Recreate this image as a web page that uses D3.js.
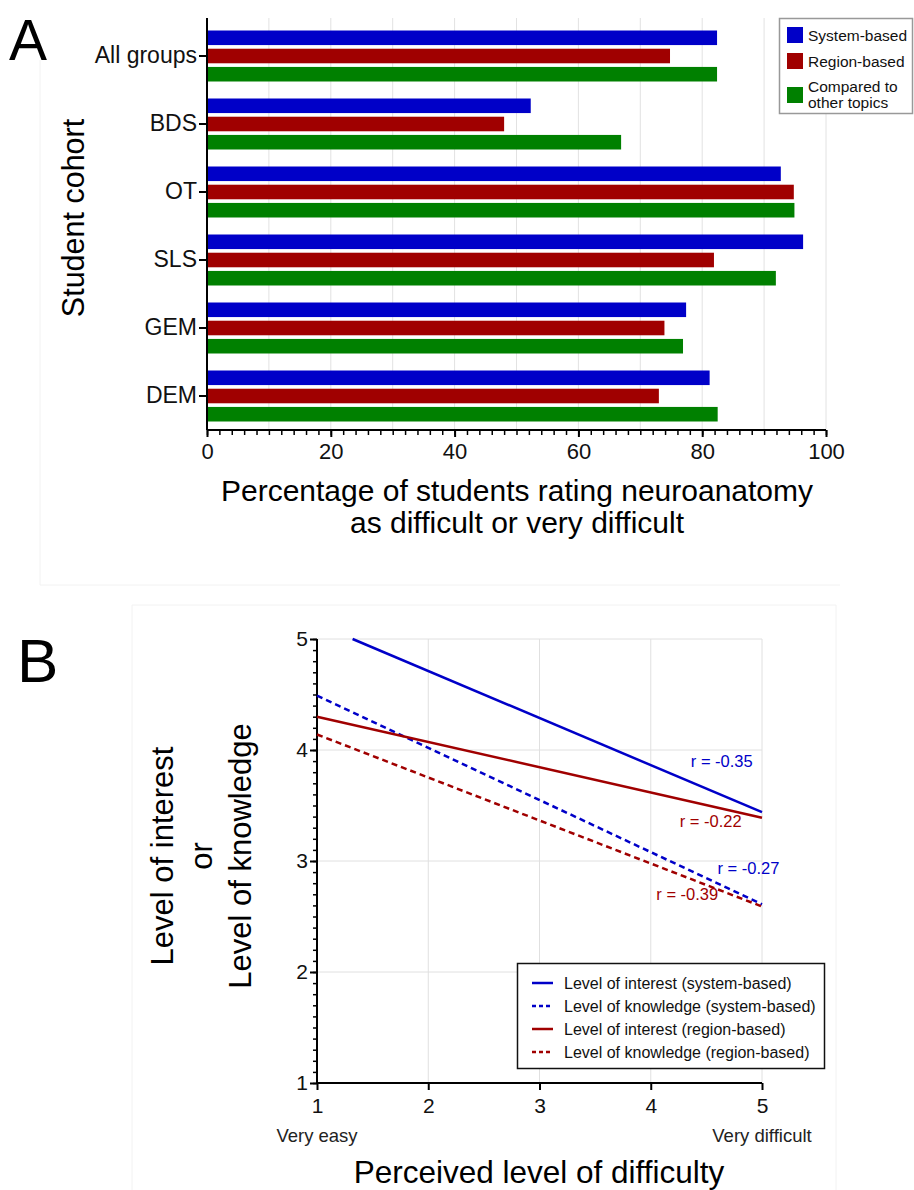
<!DOCTYPE html>
<html>
<head>
<meta charset="utf-8">
<script src="https://cdn.jsdelivr.net/npm/d3@7"></script>
<style>
  body { margin: 0; background: #fff; }
  text { font-family: "Liberation Sans", Arial, sans-serif; }
</style>
</head>
<body>
<script>
// Panel A data
const cohorts = ["All groups", "BDS", "OT", "SLS", "GEM", "DEM"];
const seriesA = ["System-based", "Region-based", "Compared to other topics"];
const systemBased = [82.4, 52.3, 92.7, 96.3, 77.4, 81.2];
const regionBased = [74.8, 48.0, 94.8, 81.9, 73.9, 73.0];
const comparedTopics = [82.4, 66.9, 94.9, 91.9, 76.9, 82.5];
const xTicksA = [0, 20, 40, 60, 80, 100];

// Panel B data (fitted lines, difficulty -> score)
const difficultyTicks = [1, 2, 3, 4, 5];
const scoreTicks = [1, 2, 3, 4, 5];
const interestSystem = [[1.32, 5.0], [5, 3.44]];
const knowledgeSystem = [[1, 4.49], [5, 2.61]];
const interestRegion = [[1, 4.30], [5, 3.39]];
const knowledgeRegion = [[1, 4.14], [5, 2.59]];
const rLabels = ["r = -0.35", "r = -0.22", "r = -0.27", "r = -0.39"];

const blue = "#0000c8", red = "#a00000", green = "#008000";

const svg = d3.select("body").append("svg")
  .attr("width", 914)
  .attr("height", 1190);

// faint panel frames
svg.append("path")
  .attr("d", "M40,60V585H840")
  .attr("fill", "none").attr("stroke", "#f2f2f2");
svg.append("path")
  .attr("d", "M132,1190V605H836V1190")
  .attr("fill", "none").attr("stroke", "#f2f2f2");

// ---------- Panel A ----------
const x = d3.scaleLinear().domain([0, 100]).range([207, 826]);
const y = d3.scaleBand().domain(cohorts).range([22, 430])
  .paddingInner(0.25).paddingOuter(0.125);
const ySub = d3.scaleBand().domain(seriesA).range([0, y.bandwidth()]).paddingInner(0.2);

const gA = svg.append("g");

// gridlines every 10
gA.append("g").selectAll("line")
  .data(d3.range(10, 101, 10))
  .join("line")
    .attr("x1", d => x(d)).attr("x2", d => x(d))
    .attr("y1", 18).attr("y2", 430)
    .attr("stroke", "#e2e2e2").attr("stroke-width", 1);

const seriesValues = [systemBased, regionBased, comparedTopics];
const seriesColors = [blue, red, green];

seriesA.forEach((s, i) => {
  gA.append("g").selectAll("rect")
    .data(cohorts)
    .join("rect")
      .attr("x", x(0))
      .attr("y", d => y(d) + ySub(s))
      .attr("width", (d, j) => x(seriesValues[i][j]) - x(0))
      .attr("height", ySub.bandwidth())
      .attr("fill", seriesColors[i]);
});

// x axis with minor ticks
gA.append("g")
  .attr("transform", "translate(0,430)")
  .call(d3.axisBottom(x).tickValues(d3.range(0, 101, 2)).tickSize(5).tickFormat(""))
  .call(g => g.select(".domain").remove())
  .selectAll("line").attr("stroke", "#000").attr("stroke-width", 1.5);

gA.append("g")
  .attr("transform", "translate(0,430)")
  .call(d3.axisBottom(x).tickValues(xTicksA).tickSize(7).tickPadding(6))
  .call(g => g.select(".domain").attr("stroke-width", 2).attr("d", "M207,0H826"))
  .call(g => g.selectAll("line").attr("stroke-width", 2))
  .call(g => g.selectAll("text").attr("font-size", 22).attr("fill", "#111"));

// y axis
gA.append("g")
  .attr("transform", "translate(207,0)")
  .call(d3.axisLeft(y).tickSize(8).tickPadding(2))
  .call(g => g.select(".domain").attr("stroke-width", 2).attr("d", "M0,18V430"))
  .call(g => g.selectAll("line").attr("stroke-width", 2))
  .call(g => g.selectAll("text").attr("font-size", 23).attr("fill", "#111"));

gA.append("text")
  .attr("transform", "translate(84,218) rotate(-90)")
  .attr("text-anchor", "middle")
  .attr("font-size", 30.5)
  .text("Student cohort");

gA.append("text")
  .attr("x", 517).attr("y", 501)
  .attr("text-anchor", "middle").attr("font-size", 30)
  .text("Percentage of students rating neuroanatomy");
gA.append("text")
  .attr("x", 517).attr("y", 533)
  .attr("text-anchor", "middle").attr("font-size", 30)
  .text("as difficult or very difficult");

svg.append("text").attr("x", 9).attr("y", 60).attr("font-size", 57).text("A");

// legend A
const legA = gA.append("g");
legA.append("rect")
  .attr("x", 779.5).attr("y", 18.5).attr("width", 133).attr("height", 95)
  .attr("fill", "#fff").attr("stroke", "#999").attr("stroke-width", 1.5);
const legRowsA = [
  {lines: ["System-based"], y: 27},
  {lines: ["Region-based"], y: 53},
  {lines: ["Compared to", "other topics"], y: 87}
];
legRowsA.forEach((r, i) => {
  legA.append("rect")
    .attr("x", 787).attr("y", r.y).attr("width", 16).attr("height", 16)
    .attr("fill", seriesColors[i]);
  const t = legA.append("text").attr("font-size", 15.5).attr("fill", "#111");
  const base = r.lines.length === 1 ? r.y + 13.5 : r.y + 5;
  r.lines.forEach((l, k) => t.append("tspan").attr("x", 808).attr("y", base + k * 15.5).text(l));
});

// ---------- Panel B ----------
const xB = d3.scaleLinear().domain([1, 5]).range([317, 762]);
const yB = d3.scaleLinear().domain([1, 5]).range([1083, 639]);
const gB = svg.append("g");

gB.append("g").selectAll("line")
  .data(difficultyTicks.slice(1))
  .join("line")
    .attr("x1", d => xB(d)).attr("x2", d => xB(d))
    .attr("y1", yB(5)).attr("y2", yB(1))
    .attr("stroke", "#e0e0e0");
gB.append("g").selectAll("line")
  .data(scoreTicks.slice(1))
  .join("line")
    .attr("x1", xB(1)).attr("x2", xB(5))
    .attr("y1", d => yB(d)).attr("y2", d => yB(d))
    .attr("stroke", "#e0e0e0");

// y minor ticks
gB.append("g")
  .attr("transform", "translate(317,0)")
  .call(d3.axisLeft(yB).tickValues(d3.range(10, 51).map(d => d / 10)).tickSize(4).tickFormat(""))
  .call(g => g.select(".domain").remove())
  .selectAll("line").attr("stroke-width", 1.5);

gB.append("g")
  .attr("transform", "translate(317,0)")
  .call(d3.axisLeft(yB).tickValues(scoreTicks).tickFormat(d3.format("d")).tickSize(7).tickPadding(2))
  .call(g => g.select(".domain").attr("stroke-width", 2).attr("d", "M0,639V1083"))
  .call(g => g.selectAll("line").attr("stroke-width", 2))
  .call(g => g.selectAll("text").attr("font-size", 21).attr("fill", "#111"));

gB.append("g")
  .attr("transform", "translate(0,1083)")
  .call(d3.axisBottom(xB).tickValues(difficultyTicks).tickFormat(d3.format("d")).tickSize(7).tickPadding(8))
  .call(g => g.select(".domain").attr("stroke-width", 2).attr("d", "M317,0H762"))
  .call(g => g.selectAll("line").attr("stroke-width", 2))
  .call(g => g.selectAll("text").attr("font-size", 21).attr("fill", "#111"));

gB.append("text").attr("x", xB(1)).attr("y", 1142)
  .attr("text-anchor", "middle").attr("font-size", 18.5).attr("fill", "#222").text("Very easy");
gB.append("text").attr("x", xB(5)).attr("y", 1142)
  .attr("text-anchor", "middle").attr("font-size", 18.5).attr("fill", "#222").text("Very difficult");

gB.append("text").attr("x", 539).attr("y", 1183)
  .attr("text-anchor", "middle").attr("font-size", 31.5).text("Perceived level of difficulty");

const yTitle = gB.append("text")
  .attr("transform", "translate(0,856) rotate(-90)")
  .attr("text-anchor", "middle").attr("font-size", 31);
[["Level of interest", 173], ["or", 212], ["Level of knowledge", 251]].forEach(([t, px]) => {
  yTitle.append("tspan").attr("x", 0).attr("y", px).text(t);
});

svg.append("text").attr("x", 17).attr("y", 682).attr("font-size", 62).text("B");

const line = d3.line().x(d => xB(d[0])).y(d => yB(d[1]));
const linesB = [
  {data: interestSystem, color: blue, dash: null, label: "Level of interest (system-based)"},
  {data: knowledgeSystem, color: blue, dash: "6,4", label: "Level of knowledge (system-based)"},
  {data: interestRegion, color: red, dash: null, label: "Level of interest (region-based)"},
  {data: knowledgeRegion, color: red, dash: "6,4", label: "Level of knowledge (region-based)"}
];
linesB.forEach(l => {
  gB.append("path")
    .attr("d", line(l.data))
    .attr("fill", "none")
    .attr("stroke", l.color)
    .attr("stroke-width", 2.5)
    .attr("stroke-dasharray", l.dash);
});

// r annotations
const rPos = [
  {x: 4.36, y: 3.85, c: blue},
  {x: 4.26, y: 3.31, c: red},
  {x: 4.6, y: 2.88, c: blue},
  {x: 4.05, y: 2.65, c: red}
];
rPos.forEach((p, i) => {
  gB.append("text")
    .attr("x", xB(p.x)).attr("y", yB(p.y))
    .attr("font-size", 16.5).attr("fill", p.c)
    .text(rLabels[i]);
});

// legend B
const legB = gB.append("g");
legB.append("rect")
  .attr("x", 517.5).attr("y", 963.5).attr("width", 307).attr("height", 105)
  .attr("fill", "#fff").attr("stroke", "#111").attr("stroke-width", 1.5);
linesB.forEach((l, i) => {
  const ry = 983 + i * 23;
  legB.append("line")
    .attr("x1", 532).attr("x2", 553).attr("y1", ry).attr("y2", ry)
    .attr("stroke", l.color).attr("stroke-width", 2.5)
    .attr("stroke-dasharray", l.dash ? "4,3" : null);
  legB.append("text")
    .attr("x", 564).attr("y", ry + 5.5)
    .attr("font-size", 16).attr("fill", "#111")
    .text(l.label);
});
</script>
</body>
</html>
